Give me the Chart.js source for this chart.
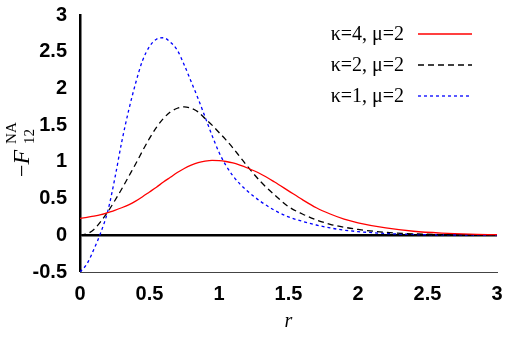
<!DOCTYPE html>
<html>
<head>
<meta charset="utf-8">
<script src="https://cdn.jsdelivr.net/npm/chart.js@4.4.1/dist/chart.umd.min.js"></script>
<style>
  html, body { margin: 0; padding: 0; background: #fff; }
  canvas { display: block; }
</style>
</head>
<body>
<canvas id="chart" width="506" height="338"></canvas>
<script>
const rValues = [0, 0.05, 0.1, 0.15, 0.2, 0.25, 0.3, 0.35, 0.4, 0.45, 0.5, 0.55, 0.6, 0.65, 0.7, 0.75, 0.8, 0.85, 0.9, 0.95,
                 1.0, 1.05, 1.1, 1.15, 1.2, 1.3, 1.4, 1.5, 1.6, 1.7, 1.8, 1.9, 2.0, 2.2, 2.4, 2.6, 2.8, 3.0];
const kappa4 = [0.23, 0.245, 0.26, 0.28, 0.31, 0.34, 0.375, 0.415, 0.465, 0.525, 0.59, 0.655, 0.725, 0.79, 0.855, 0.91, 0.955, 0.99, 1.01, 1.02,
                1.017, 1.005, 0.985, 0.955, 0.92, 0.835, 0.725, 0.605, 0.485, 0.375, 0.29, 0.22, 0.17, 0.10, 0.055, 0.03, 0.015, 0.008];
const kappa2 = [0.0, 0.02, 0.08, 0.19, 0.32, 0.47, 0.63, 0.80, 0.97, 1.15, 1.32, 1.47, 1.59, 1.68, 1.73, 1.75, 1.73, 1.68, 1.59, 1.50,
                1.40, 1.30, 1.19, 1.07, 0.95, 0.73, 0.55, 0.39, 0.29, 0.21, 0.15, 0.11, 0.08, 0.04, 0.02, 0.01, 0.005, 0.003];
const kappa1 = [-0.5, -0.39, -0.19, 0.04, 0.33, 0.77, 1.27, 1.70, 2.07, 2.38, 2.57, 2.67, 2.69, 2.63, 2.52, 2.32, 2.09, 1.86, 1.61, 1.36,
                1.13, 0.95, 0.81, 0.70, 0.61, 0.46, 0.34, 0.25, 0.19, 0.14, 0.10, 0.07, 0.05, 0.025, 0.012, 0.006, 0.003, 0.001];
const seriesLabels = ['κ=4, μ=2', 'κ=2, μ=2', 'κ=1, μ=2'];
const xTicks = [0, 0.5, 1, 1.5, 2, 2.5, 3];
const yTicks = [-0.5, 0, 0.5, 1, 1.5, 2, 2.5, 3];

const tickFont = { family: '"Liberation Sans", Arial, sans-serif', size: 20, weight: 'bold' };
const serif = '"Liberation Serif", "DejaVu Serif", serif';

const toPoints = ys => rValues.map((r, i) => ({ x: r, y: ys[i] }));

// legend: text on the left, line sample on the right
const sideLegend = {
    id: 'sideLegend',
    afterDraw(chart) {
        const ctx = chart.ctx;
        ctx.save();
        ctx.font = `20px ${serif}`;
        ctx.textAlign = 'right';
        ctx.textBaseline = 'middle';
        chart.data.datasets.forEach((ds, i) => {
            const y = 34 + i * 31;
            ctx.fillStyle = '#000';
            ctx.fillText(ds.label, 404, y + 1);
            ctx.strokeStyle = ds.borderColor;
            ctx.lineWidth = ds.borderWidth;
            ctx.setLineDash(ds.borderDash || []);
            ctx.beginPath();
            ctx.moveTo(418, y);
            ctx.lineTo(472, y);
            ctx.stroke();
        });
        ctx.restore();
    }
};

// y axis title: -F_12^NA, rotated
const yTitle = {
    id: 'yTitle',
    afterDraw(chart) {
        const ctx = chart.ctx;
        ctx.save();
        ctx.translate(29, 177);
        ctx.rotate(-Math.PI / 2);
        ctx.fillStyle = '#000';
        ctx.textBaseline = 'alphabetic';
        ctx.font = `22px ${serif}`;
        ctx.fillText('−', 0, 0);
        let x = ctx.measureText('−').width;
        ctx.font = `italic 24px ${serif}`;
        ctx.fillText('F', x, 0);
        x += ctx.measureText('F').width + 6;
        ctx.font = `15px ${serif}`;
        ctx.fillText('NA', x, -13);
        ctx.fillText('12', x, 5);
        ctx.restore();
    }
};

// keep the plot box fixed: no extra room for overhanging tick labels
const noOverhang = s => { s.paddingLeft = 0; s.paddingRight = 0; s.paddingTop = 0; s.paddingBottom = 0; };

new Chart(document.getElementById('chart'), {
    type: 'line',
    data: {
        datasets: [
            { label: seriesLabels[0], data: toPoints(kappa4), borderColor: '#ff0000', borderWidth: 1.3 },
            { label: seriesLabels[1], data: toPoints(kappa2), borderColor: '#000000', borderWidth: 1.3, borderDash: [6, 4] },
            { label: seriesLabels[2], data: toPoints(kappa1), borderColor: '#0000ff', borderWidth: 1.3, borderDash: [3, 3] }
        ]
    },
    options: {
        responsive: false,
        animation: false,
        events: [],
        layout: { padding: { left: 0, right: 9, top: 15, bottom: 0 } },
        elements: {
            point: { radius: 0 },
            line: { cubicInterpolationMode: 'monotone', fill: false }
        },
        scales: {
            x: {
                type: 'linear',
                min: 0,
                max: 3,
                afterBuildTicks: s => { s.ticks = xTicks.map(v => ({ value: v })); },
                afterFit: s => { s.height = 66; noOverhang(s); },
                grid: { display: false, drawTicks: false },
                border: { display: true, color: '#444', width: 1, dash: [1, 1] },
                ticks: { color: '#000', font: tickFont, padding: 10, maxRotation: 0, callback: v => String(v) },
                title: { display: true, text: 'r', color: '#000', font: { family: serif, size: 20, style: 'italic' }, padding: 4 }
            },
            y: {
                type: 'linear',
                min: -0.5,
                max: 3,
                afterBuildTicks: s => { s.ticks = yTicks.map(v => ({ value: v })); },
                afterFit: s => { s.width = 80; noOverhang(s); },
                grid: {
                    drawTicks: false,
                    color: c => (c.tick && c.tick.value === 0) ? '#000' : 'rgba(0,0,0,0)',
                    lineWidth: c => (c.tick && c.tick.value === 0) ? 2.5 : 0
                },
                border: { display: true, color: '#000', width: 2.5 },
                ticks: { color: '#000', font: tickFont, padding: 13, callback: v => String(v) }
            }
        },
        plugins: {
            legend: { display: false },
            tooltip: { enabled: false }
        }
    },
    plugins: [sideLegend, yTitle]
});
</script>
</body>
</html>
